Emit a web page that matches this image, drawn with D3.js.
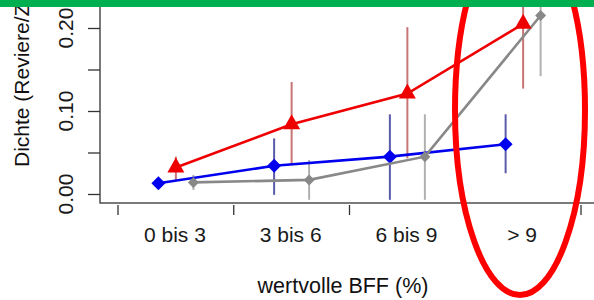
<!DOCTYPE html>
<html>
<head>
<meta charset="utf-8">
<script src="https://cdn.jsdelivr.net/npm/d3@7"></script>
<style>
  body { margin: 0; background: #fff; }
  svg { display: block; font-family: "Liberation Sans", Arial, sans-serif; }
</style>
</head>
<body>
<div id="chart"></div>
<script>
// categories and values
const categories = ["0 bis 3", "3 bis 6", "6 bis 9", "> 9"];

const blueMean = [0.013, 0.034, 0.045, 0.060];
const blueLow  = [0.009, -0.001, -0.007, 0.025];
const blueHigh = [0.018, 0.067, 0.096, 0.096];

const redMean = [0.032, 0.084, 0.121, 0.205];
const redLow  = [0.017, 0.035, 0.043, 0.127];
const redHigh = [0.045, 0.135, 0.201, 0.284];

const grayMean = [0.014, 0.017, 0.045, 0.215];
const grayLow  = [0.005, -0.007, -0.007, 0.142];
const grayHigh = [0.023, 0.041, 0.096, 0.290];

const yTicks = [0, 0.05, 0.10, 0.15, 0.20];
const yLabels = [0, 0.10, 0.20];

const W = 594, H = 300;
const svg = d3.select("#chart").append("svg").attr("width", W).attr("height", H);

const x = d3.scaleBand().domain(categories).range([118, 581]).padding(0);
const y = d3.scaleLinear().domain([0, 0.2]).range([194, 28]);
const cx = c => x(c) + x.bandwidth() / 2;

// plot frame (top and right edge fall outside the picture)
svg.append("rect")
    .attr("x", 100).attr("y", -20)
    .attr("width", 540).attr("height", 223)
    .attr("fill", "none").attr("stroke", "#333").attr("stroke-width", 1.3);

// y axis ticks
const yAxis = svg.append("g").attr("transform", "translate(100,0)")
    .call(d3.axisLeft(y).tickValues(yTicks).tickSize(12).tickFormat(""));
yAxis.select(".domain").remove();
yAxis.selectAll("line").attr("stroke", "#333").attr("stroke-width", 1.3);

svg.selectAll(".ylab").data(yLabels).enter().append("text")
    .attr("class", "ylab")
    .attr("transform", d => "translate(73," + y(d) + ") rotate(-90)")
    .attr("text-anchor", "middle")
    .attr("font-size", 21)
    .attr("fill", "#1a1a1a")
    .text(d => d.toFixed(2));

// x axis: ticks between the groups, hanging below the frame
const bounds = categories.map(c => x(c)).concat([x.range()[1]]);
const xAxis = svg.append("g").attr("transform", "translate(0,205)");
xAxis.selectAll(".bnd").data(bounds).enter().append("line")
    .attr("x1", d => d).attr("x2", d => d)
    .attr("y1", 0).attr("y2", 10)
    .attr("stroke", "#333").attr("stroke-width", 1.3);

svg.selectAll(".xlab").data(categories).enter().append("text")
    .attr("class", "xlab")
    .attr("x", d => cx(d) - 1)
    .attr("y", 242)
    .attr("text-anchor", "middle")
    .attr("font-size", 21)
    .attr("fill", "#1a1a1a")
    .text(d => d);

svg.append("text")
    .attr("x", 343).attr("y", 293)
    .attr("text-anchor", "middle")
    .attr("font-size", 21.5)
    .attr("fill", "#111")
    .text("wertvolle BFF (%)");

// title is cut at the top in the source, only this part shows
svg.append("text")
    .attr("transform", "translate(29,167) rotate(-90)")
    .attr("text-anchor", "start")
    .attr("font-size", 21)
    .attr("fill", "#111")
    .text("Dichte (Reviere/Z");

// series
const series = [
  { mean: blueMean, low: blueLow, high: blueHigh, off: -17.5, line: "#0000ee", err: "#5a5aaa", shape: "diamond", r: 7 },
  { mean: grayMean, low: grayLow, high: grayHigh, off: 17.5, line: "#888888", err: "#b0b0b0", shape: "diamond", r: 5.5 },
  { mean: redMean, low: redLow, high: redHigh, off: 0, line: "#ee0000", err: "#c87474", shape: "triangle", r: 8 }
];

const plot = svg.append("g");

series.forEach(s => {
  const pts = categories.map((c, i) => ({ x: cx(c) + s.off, m: s.mean[i], lo: s.low[i], hi: s.high[i] }));
  plot.append("g").selectAll("line").data(pts).enter().append("line")
      .attr("x1", d => d.x).attr("x2", d => d.x)
      .attr("y1", d => y(d.lo)).attr("y2", d => y(d.hi))
      .attr("stroke", s.err).attr("stroke-width", 2);
});

series.forEach(s => {
  const pts = categories.map((c, i) => ({ x: cx(c) + s.off, m: s.mean[i] }));
  plot.append("path").datum(pts)
      .attr("fill", "none").attr("stroke", s.line).attr("stroke-width", 2.6)
      .attr("d", d3.line().x(d => d.x).y(d => y(d.m)));
  plot.append("g").selectAll("path").data(pts).enter().append("path")
      .attr("fill", s.line)
      .attr("transform", d => "translate(" + d.x + "," + y(d.m) + ")")
      .attr("d", s.shape === "diamond"
        ? `M0,${-s.r}L${s.r},0L0,${s.r}L${-s.r},0Z`
        : `M0,-10L8.5,5L-8.5,5Z`);
});

// annotation ellipse and green bar on top
svg.append("ellipse")
    .attr("cx", 520).attr("cy", 110).attr("rx", 65).attr("ry", 185)
    .attr("fill", "none").attr("stroke", "#ff0000").attr("stroke-width", 6);

svg.append("rect")
    .attr("x", 0).attr("y", 0).attr("width", W).attr("height", 7)
    .attr("fill", "#00af50");
</script>
</body>
</html>
